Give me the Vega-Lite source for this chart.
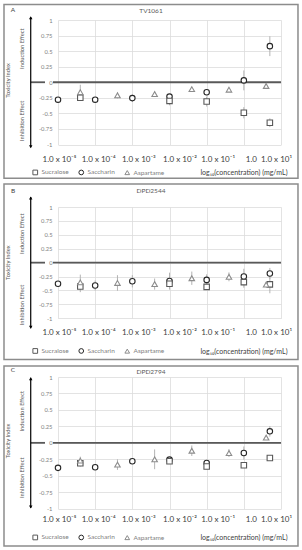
{
"$schema": "https://vega.github.io/schema/vega-lite/v6.json",
"background": "white",
"padding": {"left": 3, "top": 3, "right": 0, "bottom": 0},
"spacing": 4,
"config": {
  "view": {"stroke": null},
  "font": "Lato",
  "axis": {"domain": false, "ticks": false, "tickSize": 0, "grid": true, "gridColor": "#dcdcdc", "gridWidth": 0.8, "labelFont": "Lato", "titleFont": "Lato", "titleFontWeight": "normal", "labelOverlap": false, "labelFlush": false},
  "axisX": {"labelFontSize": 8, "labelColor": "#404040", "titleFontSize": 7, "titleColor": "#404040", "labelAngle": 0},
  "axisY": {"labelFontSize": 5.8, "labelColor": "#808080", "labelPadding": 6},
  "legend": {"labelFont": "Lato"}
},
"resolve": {"scale": {"x": "independent", "y": "independent", "shape": "independent", "stroke": "independent"}, "legend": {"shape": "independent", "stroke": "independent"}, "axis": {"x": "independent", "y": "independent"}},
"datasets": {
  "A": [
    {"c": -5, "s": "Saccharin", "v": -0.28, "e": 0.03},
    {"c": -4, "s": "Saccharin", "v": -0.28, "e": 0.03},
    {"c": -3, "s": "Saccharin", "v": -0.255, "e": 0.06},
    {"c": -2, "s": "Saccharin", "v": -0.23, "e": 0.04},
    {"c": -1, "s": "Saccharin", "v": -0.16, "e": 0.05},
    {"c": 0, "s": "Saccharin", "v": 0.03, "e": 0.16},
    {"c": 0.7, "s": "Saccharin", "v": 0.58, "e": 0.16},
    {"c": -4.4, "s": "Sucralose", "v": -0.25, "e": 0.04},
    {"c": -2, "s": "Sucralose", "v": -0.3, "e": 0.07},
    {"c": -1, "s": "Sucralose", "v": -0.31, "e": 0.08},
    {"c": 0, "s": "Sucralose", "v": -0.49, "e": 0.09},
    {"c": 0.7, "s": "Sucralose", "v": -0.65, "e": 0.07},
    {"c": -4.4, "s": "Aspartame", "v": -0.16, "e": 0.12},
    {"c": -3.4, "s": "Aspartame", "v": -0.21, "e": 0.05},
    {"c": -2.4, "s": "Aspartame", "v": -0.19, "e": 0.04},
    {"c": -1.4, "s": "Aspartame", "v": -0.11, "e": 0.03},
    {"c": -0.4, "s": "Aspartame", "v": -0.12, "e": 0.03},
    {"c": 0.6, "s": "Aspartame", "v": -0.06, "e": 0.04}
  ],
  "B": [
    {"c": -5, "s": "Saccharin", "v": -0.38, "e": 0.04},
    {"c": -4, "s": "Saccharin", "v": -0.41, "e": 0.09},
    {"c": -3, "s": "Saccharin", "v": -0.335, "e": 0.11},
    {"c": -2, "s": "Saccharin", "v": -0.33, "e": 0.15},
    {"c": -1, "s": "Saccharin", "v": -0.31, "e": 0.1},
    {"c": 0, "s": "Saccharin", "v": -0.25, "e": 0.14},
    {"c": 0.7, "s": "Saccharin", "v": -0.195, "e": 0.1},
    {"c": -4.4, "s": "Sucralose", "v": -0.43, "e": 0.1},
    {"c": -2, "s": "Sucralose", "v": -0.38, "e": 0.1},
    {"c": -1, "s": "Sucralose", "v": -0.435, "e": 0.05},
    {"c": 0, "s": "Sucralose", "v": -0.35, "e": 0.1},
    {"c": 0.7, "s": "Sucralose", "v": -0.39, "e": 0.16},
    {"c": -4.4, "s": "Aspartame", "v": -0.355, "e": 0.14},
    {"c": -3.4, "s": "Aspartame", "v": -0.365, "e": 0.14},
    {"c": -2.4, "s": "Aspartame", "v": -0.385, "e": 0.1},
    {"c": -1.4, "s": "Aspartame", "v": -0.28, "e": 0.12},
    {"c": -0.4, "s": "Aspartame", "v": -0.255, "e": 0.08},
    {"c": 0.6, "s": "Aspartame", "v": -0.395, "e": 0.05}
  ],
  "C": [
    {"c": -5, "s": "Saccharin", "v": -0.38, "e": 0.03},
    {"c": -4, "s": "Saccharin", "v": -0.37, "e": 0.02},
    {"c": -3, "s": "Saccharin", "v": -0.28, "e": 0.04},
    {"c": -2, "s": "Saccharin", "v": -0.255, "e": 0.02},
    {"c": -1, "s": "Saccharin", "v": -0.305, "e": 0.03},
    {"c": 0, "s": "Saccharin", "v": -0.155, "e": 0.1},
    {"c": 0.7, "s": "Saccharin", "v": 0.175, "e": 0.08},
    {"c": -4.4, "s": "Sucralose", "v": -0.31, "e": 0.05},
    {"c": -2, "s": "Sucralose", "v": -0.28, "e": 0.03},
    {"c": -1, "s": "Sucralose", "v": -0.36, "e": 0.04},
    {"c": 0, "s": "Sucralose", "v": -0.34, "e": 0.03},
    {"c": 0.7, "s": "Sucralose", "v": -0.23, "e": 0.02},
    {"c": -4.4, "s": "Aspartame", "v": -0.27, "e": 0.06},
    {"c": -3.4, "s": "Aspartame", "v": -0.33, "e": 0.08},
    {"c": -2.4, "s": "Aspartame", "v": -0.25, "e": 0.15},
    {"c": -1.4, "s": "Aspartame", "v": -0.12, "e": 0.08},
    {"c": -0.4, "s": "Aspartame", "v": -0.155, "e": 0.06},
    {"c": 0.6, "s": "Aspartame", "v": 0.08, "e": 0.03}
  ]
},
"vconcat": [
{
  "width": 223, "height": 124.5,
  "title": {"text": "TV1061", "frame": "bounds", "anchor": "middle", "offset": -13.5, "baseline": "middle", "fontSize": 6.5, "fontWeight": "normal", "color": "#595959", "font": "Lato"},
  "data": {"name": "A"},
  "layer": [
    {"data": {"values": [{}]}, "mark": {"type": "rect", "fill": "white", "fillOpacity": 0, "stroke": "#8c8c8c", "strokeWidth": 1.5},
     "encoding": {"x": {"datum": -6.453, "type": "quantitative"}, "x2": {"datum": 1.457}, "y": {"datum": 1.249, "type": "quantitative"}, "y2": {"datum": -1.541}}},
    {"data": {"values": [{}]}, "mark": {"type": "rule", "color": "#595959", "strokeWidth": 1.8}, "encoding": {"x": {"datum": -5.734}, "x2": {"datum": -5.35}, "y": {"datum": 0}}},
    {"data": {"values": [{}]}, "mark": {"type": "rule", "color": "#595959", "strokeWidth": 1.8}, "encoding": {"x": {"datum": -5.135}, "x2": {"datum": 1}, "y": {"datum": 0}}},
    {"data": {"values": [{}]}, "mark": {"type": "rule", "color": "#000000", "strokeWidth": 1.2}, "encoding": {"x": {"datum": -5.734}, "y": {"datum": 1.045}, "y2": {"datum": -1.045}}},
    {"data": {"values": [{}]}, "mark": {"type": "point", "shape": "triangle-up", "filled": true, "color": "#000000", "size": 12, "opacity": 1}, "encoding": {"x": {"datum": -5.734}, "y": {"datum": 1.035}}},
    {"data": {"values": [{}]}, "mark": {"type": "point", "shape": "triangle-down", "filled": true, "color": "#000000", "size": 12, "opacity": 1}, "encoding": {"x": {"datum": -5.734}, "y": {"datum": -1.035}}},
    {"data": {"values": [{}]}, "mark": {"type": "text", "text": "A", "fontSize": 6.5, "color": "#404040", "font": "Lato"}, "encoding": {"x": {"datum": -6.211}, "y": {"datum": 1.153}}},
    {"data": {"values": [{}]}, "mark": {"type": "text", "text": "Toxicity Index", "angle": 270, "fontSize": 5.8, "color": "#595959", "font": "Lato"}, "encoding": {"x": {"datum": -6.345}, "y": {"datum": 0.03}}},
    {"data": {"values": [{}]}, "mark": {"type": "text", "text": "Induction Effect", "angle": 270, "fontSize": 5.8, "color": "#595959", "font": "Lato"}, "encoding": {"x": {"datum": -5.969}, "y": {"datum": 0.54}}},
    {"data": {"values": [{}]}, "mark": {"type": "text", "text": "Inhibition Effect", "angle": 270, "fontSize": 5.8, "color": "#595959", "font": "Lato"}, "encoding": {"x": {"datum": -5.969}, "y": {"datum": -0.62}}},
    {"mark": {"type": "errorbar", "rule": {"color": "#b3b3b3", "strokeWidth": 1}},
     "encoding": {"x": {"field": "c", "type": "quantitative"}, "y": {"field": "v", "type": "quantitative"}, "yError": {"field": "e"}}},
    {"mark": {"type": "point", "filled": true, "fill": "white", "strokeWidth": 1.1, "size": 30, "opacity": 1},
     "encoding": {
       "x": {"field": "c", "type": "quantitative", "scale": {"domain": [-5, 1], "nice": false, "zero": false},
             "axis": {"title": "log₁₀(concentration) (mg/mL)", "values": [-5, -4, -3, -2, -1, 0, 1], "tickCount": 50, "labelOverlap": false, "labelFlush": false,
                      "labelExpr": "datum.value == 0 ? '1.0' : datum.value == 1 ? '1.0 x 10¹' : datum.value == -1 ? '1.0 x 10⁻¹' : datum.value == -2 ? '1.0 x 10⁻²' : datum.value == -3 ? '1.0 x 10⁻³' : datum.value == -4 ? '1.0 x 10⁻⁴' : '1.0 x 10⁻⁵'",
                      "labelOffset": {"condition": [{"test": "datum.value == -4", "value": 3}, {"test": "datum.value == -3", "value": 6}, {"test": "datum.value == -2", "value": 10}, {"test": "datum.value == -1", "value": 11}, {"test": "datum.value == 0", "value": 7}, {"test": "datum.value == 1", "value": -5}], "value": 1},
                      "labelPadding": 15, "labelBaseline": "middle", "titleX": 229, "titleY": 28, "titleAlign": "right", "titleAnchor": "end", "titleBaseline": "middle"}},
       "y": {"field": "v", "type": "quantitative", "scale": {"domain": [-1, 1], "nice": false, "zero": false},
             "axis": {"title": null, "values": [-1, -0.75, -0.5, -0.25, 0, 0.25, 0.5, 0.75, 1], "tickCount": 50, "labelOverlap": false, "labelFlush": false, "labelExpr": "datum.value < 0 ? '-' + format(-datum.value, '~g') : format(datum.value, '~g')"}},
       "shape": {"field": "s", "type": "nominal", "scale": {"domain": ["Sucralose", "Saccharin", "Aspartame"], "range": ["square", "circle", "triangle-up"]},
                 "legend": {"title": null, "orient": "none", "legendX": -26, "legendY": 149, "direction": "horizontal", "symbolSize": 22, "symbolStrokeWidth": 1, "symbolFillColor": "white", "labelFontSize": 6.5, "labelColor": "#808080", "columnPadding": 7, "labelOffset": 3, "padding": 0}},
       "stroke": {"field": "s", "type": "nominal", "scale": {"domain": ["Sucralose", "Saccharin", "Aspartame"], "range": ["#595959", "#262626", "#8c8c8c"]},
                 "legend": {"title": null, "orient": "none", "legendX": -26, "legendY": 149, "direction": "horizontal", "symbolSize": 22, "symbolStrokeWidth": 1, "symbolFillColor": "white", "labelFontSize": 6.5, "labelColor": "#808080", "columnPadding": 7, "labelOffset": 3, "padding": 0}}}}
  ]
},
{
  "width": 223, "height": 111.3,
  "title": {"text": "DPD2544", "frame": "bounds", "anchor": "middle", "offset": -14.5, "baseline": "middle", "fontSize": 6.5, "fontWeight": "normal", "color": "#595959", "font": "Lato"},
  "data": {"name": "B"},
  "layer": [
    {"data": {"values": [{}]}, "mark": {"type": "rect", "fill": "white", "fillOpacity": 0, "stroke": "#8c8c8c", "strokeWidth": 1.5},
     "encoding": {"x": {"datum": -6.453, "type": "quantitative"}, "x2": {"datum": 1.457}, "y": {"datum": 1.413, "type": "quantitative"}, "y2": {"datum": -1.74}}},
    {"data": {"values": [{}]}, "mark": {"type": "rule", "color": "#595959", "strokeWidth": 1.8}, "encoding": {"x": {"datum": -5.734}, "x2": {"datum": -5.35}, "y": {"datum": 0}}},
    {"data": {"values": [{}]}, "mark": {"type": "rule", "color": "#595959", "strokeWidth": 1.8}, "encoding": {"x": {"datum": -5.135}, "x2": {"datum": 1}, "y": {"datum": 0}}},
    {"data": {"values": [{}]}, "mark": {"type": "rule", "color": "#000000", "strokeWidth": 1.2}, "encoding": {"x": {"datum": -5.734}, "y": {"datum": 1.18}, "y2": {"datum": -1.18}}},
    {"data": {"values": [{}]}, "mark": {"type": "point", "shape": "triangle-up", "filled": true, "color": "#000000", "size": 12, "opacity": 1}, "encoding": {"x": {"datum": -5.734}, "y": {"datum": 1.162}}},
    {"data": {"values": [{}]}, "mark": {"type": "point", "shape": "triangle-down", "filled": true, "color": "#000000", "size": 12, "opacity": 1}, "encoding": {"x": {"datum": -5.734}, "y": {"datum": -1.162}}},
    {"data": {"values": [{}]}, "mark": {"type": "text", "text": "B", "fontSize": 6.5, "color": "#404040", "font": "Lato"}, "encoding": {"x": {"datum": -6.211}, "y": {"datum": 1.288}}},
    {"data": {"values": [{}]}, "mark": {"type": "text", "text": "Toxicity Index", "angle": 270, "fontSize": 5.8, "color": "#595959", "font": "Lato"}, "encoding": {"x": {"datum": -6.345}, "y": {"datum": 0}}},
    {"data": {"values": [{}]}, "mark": {"type": "text", "text": "Induction Effect", "angle": 270, "fontSize": 5.8, "color": "#595959", "font": "Lato"}, "encoding": {"x": {"datum": -5.969}, "y": {"datum": 0.52}}},
    {"data": {"values": [{}]}, "mark": {"type": "text", "text": "Inhibition Effect", "angle": 270, "fontSize": 5.8, "color": "#595959", "font": "Lato"}, "encoding": {"x": {"datum": -5.969}, "y": {"datum": -0.76}}},
    {"mark": {"type": "errorbar", "rule": {"color": "#b3b3b3", "strokeWidth": 1}},
     "encoding": {"x": {"field": "c", "type": "quantitative"}, "y": {"field": "v", "type": "quantitative"}, "yError": {"field": "e"}}},
    {"mark": {"type": "point", "filled": true, "fill": "white", "strokeWidth": 1.1, "size": 30, "opacity": 1},
     "encoding": {
       "x": {"field": "c", "type": "quantitative", "scale": {"domain": [-5, 1], "nice": false, "zero": false},
             "axis": {"title": "log₁₀(concentration) (mg/mL)", "values": [-5, -4, -3, -2, -1, 0, 1], "tickCount": 50, "labelOverlap": false, "labelFlush": false,
                      "labelExpr": "datum.value == 0 ? '1.0' : datum.value == 1 ? '1.0 x 10¹' : datum.value == -1 ? '1.0 x 10⁻¹' : datum.value == -2 ? '1.0 x 10⁻²' : datum.value == -3 ? '1.0 x 10⁻³' : datum.value == -4 ? '1.0 x 10⁻⁴' : '1.0 x 10⁻⁵'",
                      "labelOffset": {"condition": [{"test": "datum.value == -4", "value": 3}, {"test": "datum.value == -3", "value": 6}, {"test": "datum.value == -2", "value": 10}, {"test": "datum.value == -1", "value": 11}, {"test": "datum.value == 0", "value": 7}, {"test": "datum.value == 1", "value": -5}], "value": 1},
                      "labelPadding": 14.4, "labelBaseline": "middle", "titleX": 229, "titleY": 32.7, "titleAlign": "right", "titleAnchor": "end", "titleBaseline": "middle"}},
       "y": {"field": "v", "type": "quantitative", "scale": {"domain": [-1, 1], "nice": false, "zero": false},
             "axis": {"title": null, "values": [-1, -0.75, -0.5, -0.25, 0, 0.25, 0.5, 0.75, 1], "tickCount": 50, "labelOverlap": false, "labelFlush": false, "labelExpr": "datum.value < 0 ? '-' + format(-datum.value, '~g') : format(datum.value, '~g')"}},
       "shape": {"field": "s", "type": "nominal", "scale": {"domain": ["Sucralose", "Saccharin", "Aspartame"], "range": ["square", "circle", "triangle-up"]},
                 "legend": {"title": null, "orient": "none", "legendX": -26, "legendY": 140.5, "direction": "horizontal", "symbolSize": 22, "symbolStrokeWidth": 1, "symbolFillColor": "white", "labelFontSize": 6.5, "labelColor": "#808080", "columnPadding": 7, "labelOffset": 3, "padding": 0}},
       "stroke": {"field": "s", "type": "nominal", "scale": {"domain": ["Sucralose", "Saccharin", "Aspartame"], "range": ["#595959", "#262626", "#8c8c8c"]},
                 "legend": {"title": null, "orient": "none", "legendX": -26, "legendY": 140.5, "direction": "horizontal", "symbolSize": 22, "symbolStrokeWidth": 1, "symbolFillColor": "white", "labelFontSize": 6.5, "labelColor": "#808080", "columnPadding": 7, "labelOffset": 3, "padding": 0}}}}
  ]
},
{
  "width": 223, "height": 131.7,
  "title": {"text": "DPD2794", "frame": "bounds", "anchor": "middle", "offset": -13.5, "baseline": "middle", "fontSize": 6.5, "fontWeight": "normal", "color": "#595959", "font": "Lato"},
  "data": {"name": "C"},
  "layer": [
    {"data": {"values": [{}]}, "mark": {"type": "rect", "fill": "white", "fillOpacity": 0, "stroke": "#8c8c8c", "strokeWidth": 1.5},
     "encoding": {"x": {"datum": -6.453, "type": "quantitative"}, "x2": {"datum": 1.457}, "y": {"datum": 1.167, "type": "quantitative"}, "y2": {"datum": -1.566}}},
    {"data": {"values": [{}]}, "mark": {"type": "rule", "color": "#595959", "strokeWidth": 1.8}, "encoding": {"x": {"datum": -5.734}, "x2": {"datum": -5.35}, "y": {"datum": 0}}},
    {"data": {"values": [{}]}, "mark": {"type": "rule", "color": "#595959", "strokeWidth": 1.8}, "encoding": {"x": {"datum": -5.135}, "x2": {"datum": 1}, "y": {"datum": 0}}},
    {"data": {"values": [{}]}, "mark": {"type": "rule", "color": "#000000", "strokeWidth": 1.2}, "encoding": {"x": {"datum": -5.734}, "y": {"datum": 0.99}, "y2": {"datum": -0.99}}},
    {"data": {"values": [{}]}, "mark": {"type": "point", "shape": "triangle-up", "filled": true, "color": "#000000", "size": 12, "opacity": 1}, "encoding": {"x": {"datum": -5.734}, "y": {"datum": 0.975}}},
    {"data": {"values": [{}]}, "mark": {"type": "point", "shape": "triangle-down", "filled": true, "color": "#000000", "size": 12, "opacity": 1}, "encoding": {"x": {"datum": -5.734}, "y": {"datum": -0.975}}},
    {"data": {"values": [{}]}, "mark": {"type": "text", "text": "C", "fontSize": 6.5, "color": "#404040", "font": "Lato"}, "encoding": {"x": {"datum": -6.211}, "y": {"datum": 1.106}}},
    {"data": {"values": [{}]}, "mark": {"type": "text", "text": "Toxicity Index", "angle": 270, "fontSize": 5.8, "color": "#595959", "font": "Lato"}, "encoding": {"x": {"datum": -6.345}, "y": {"datum": 0.03}}},
    {"data": {"values": [{}]}, "mark": {"type": "text", "text": "Induction Effect", "angle": 270, "fontSize": 5.8, "color": "#595959", "font": "Lato"}, "encoding": {"x": {"datum": -5.969}, "y": {"datum": 0.48}}},
    {"data": {"values": [{}]}, "mark": {"type": "text", "text": "Inhibition Effect", "angle": 270, "fontSize": 5.8, "color": "#595959", "font": "Lato"}, "encoding": {"x": {"datum": -5.969}, "y": {"datum": -0.53}}},
    {"mark": {"type": "errorbar", "rule": {"color": "#b3b3b3", "strokeWidth": 1}},
     "encoding": {"x": {"field": "c", "type": "quantitative"}, "y": {"field": "v", "type": "quantitative"}, "yError": {"field": "e"}}},
    {"mark": {"type": "point", "filled": true, "fill": "white", "strokeWidth": 1.1, "size": 30, "opacity": 1},
     "encoding": {
       "x": {"field": "c", "type": "quantitative", "scale": {"domain": [-5, 1], "nice": false, "zero": false},
             "axis": {"title": "log₁₀(concentration) (mg/mL)", "values": [-5, -4, -3, -2, -1, 0, 1], "tickCount": 50, "labelOverlap": false, "labelFlush": false,
                      "labelExpr": "datum.value == 0 ? '1.0' : datum.value == 1 ? '1.0 x 10¹' : datum.value == -1 ? '1.0 x 10⁻¹' : datum.value == -2 ? '1.0 x 10⁻²' : datum.value == -3 ? '1.0 x 10⁻³' : datum.value == -4 ? '1.0 x 10⁻⁴' : '1.0 x 10⁻⁵'",
                      "labelOffset": {"condition": [{"test": "datum.value == -4", "value": 3}, {"test": "datum.value == -3", "value": 6}, {"test": "datum.value == -2", "value": 10}, {"test": "datum.value == -1", "value": 11}, {"test": "datum.value == 0", "value": 7}, {"test": "datum.value == 1", "value": -5}], "value": 1},
                      "labelPadding": 10.6, "labelBaseline": "middle", "titleX": 229, "titleY": 29, "titleAlign": "right", "titleAnchor": "end", "titleBaseline": "middle"}},
       "y": {"field": "v", "type": "quantitative", "scale": {"domain": [-1, 1], "nice": false, "zero": false},
             "axis": {"title": null, "values": [-1, -0.75, -0.5, -0.25, 0, 0.25, 0.5, 0.75, 1], "tickCount": 50, "labelOverlap": false, "labelFlush": false, "labelExpr": "datum.value < 0 ? '-' + format(-datum.value, '~g') : format(datum.value, '~g')"}},
       "shape": {"field": "s", "type": "nominal", "scale": {"domain": ["Sucralose", "Saccharin", "Aspartame"], "range": ["square", "circle", "triangle-up"]},
                 "legend": {"title": null, "orient": "none", "legendX": -26, "legendY": 157, "direction": "horizontal", "symbolSize": 22, "symbolStrokeWidth": 1, "symbolFillColor": "white", "labelFontSize": 6.5, "labelColor": "#808080", "columnPadding": 7, "labelOffset": 3, "padding": 0}},
       "stroke": {"field": "s", "type": "nominal", "scale": {"domain": ["Sucralose", "Saccharin", "Aspartame"], "range": ["#595959", "#262626", "#8c8c8c"]},
                 "legend": {"title": null, "orient": "none", "legendX": -26, "legendY": 157, "direction": "horizontal", "symbolSize": 22, "symbolStrokeWidth": 1, "symbolFillColor": "white", "labelFontSize": 6.5, "labelColor": "#808080", "columnPadding": 7, "labelOffset": 3, "padding": 0}}}}
  ]
}
]
}
